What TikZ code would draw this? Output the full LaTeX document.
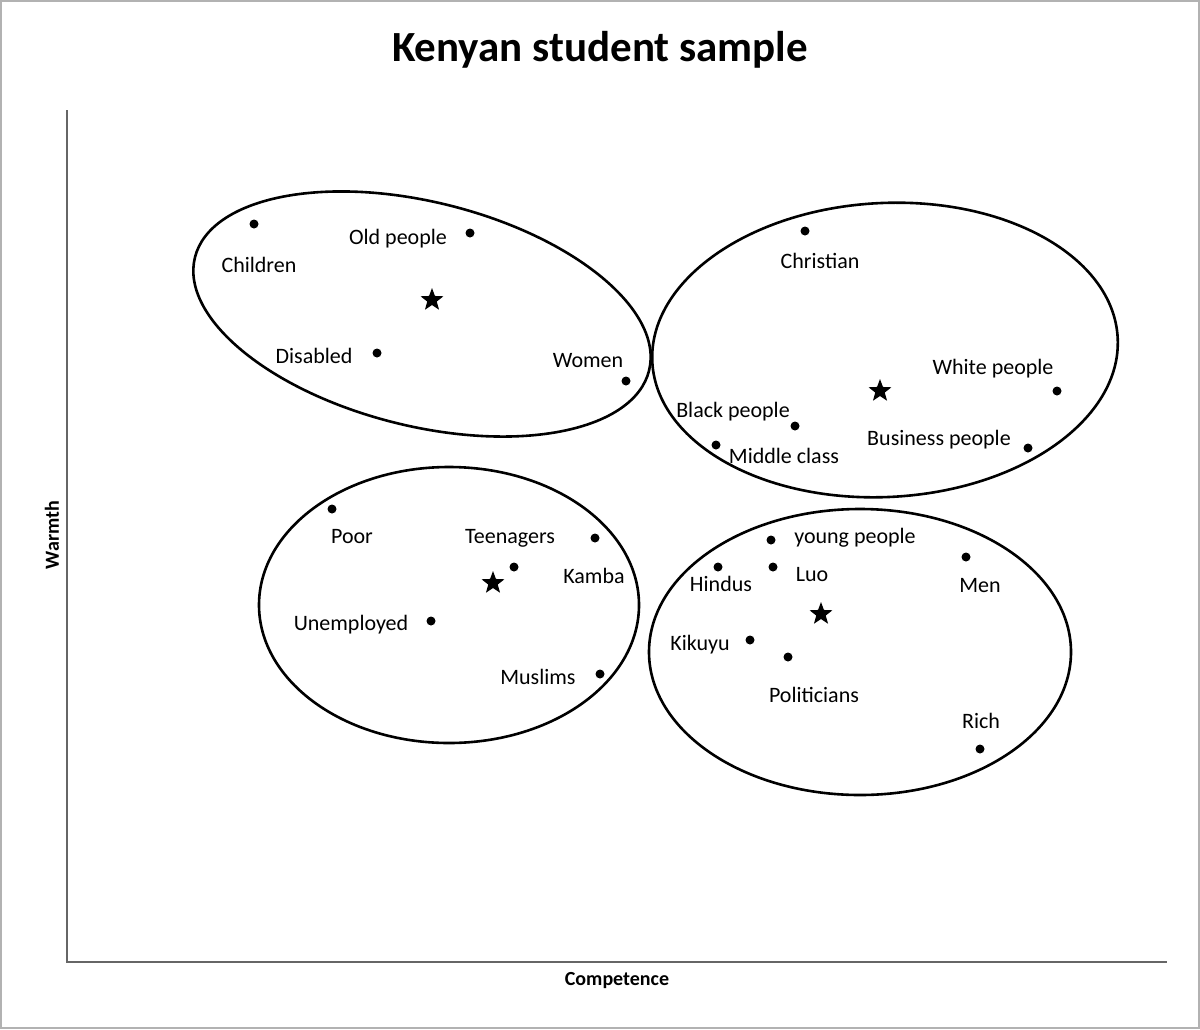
\documentclass[tikz,border=0pt]{standalone}
\usepackage{fontspec}
\setmainfont{Carlito}
\usetikzlibrary{shapes.geometric}
\tikzset{
    dot/.style={circle, fill=black, inner sep=0pt, minimum size=4.5pt},
    lbl/.style={font=\fontsize{11}{13}\selectfont, inner sep=0pt},
    centre/.style={star, star points=5, star point ratio=2.4, fill=black, inner sep=0pt, minimum size=12pt},
    group/.style={black, line width=1.3pt},
    axis/.style={gray!80!black, line width=1pt}
}
\begin{document}
\begin{tikzpicture}[x=0.5pt, y=-0.5pt]
        \useasboundingbox (0,0) rectangle (1200,1029);
        \draw[gray!60, line width=1pt] (1,1) rectangle (1199,1028);
        % axes
        \coordinate (top) at (67,110);
        \coordinate (origin) at (67,962);
        \coordinate (right) at (1167,962);
        \draw[axis] (top) -- (origin) -- (right);
        \node[font=\bfseries\fontsize{21.5}{24}\selectfont] (title) at (600,50) {Kenyan student sample};
        \node[font=\bfseries\fontsize{10}{12}\selectfont] (xlabel) at (617,981) {Competence};
        \node[font=\bfseries\fontsize{10}{12}\selectfont, rotate=90] (ylabel) at (52,535) {Warmth};
        % clusters
        \draw[group, rotate around={-14:(422,314)}] (422,314) ellipse (234 and 112);
        \draw[group, rotate around={3:(885,350)}] (885,350) ellipse (233 and 147);
        \draw[group] (449,605) ellipse (190 and 138);
        \draw[group] (860,652) ellipse (211 and 143);
        \node[centre] (s1) at (432,300) {};
        \node[centre] (s2) at (880,391) {};
        \node[centre] (s3) at (493,583) {};
        \node[centre] (s4) at (821,614) {};
        % warm, incompetent
        \node[dot] (children) at (254,224) {};   \node[lbl] (lchildren) at (259,265) {Children};
        \node[dot] (old) at (470,233) {};        \node[lbl] (lold) at (398,239) {Old people};
        \node[dot] (disabled) at (377,353) {};   \node[lbl] (ldisabled) at (314,356) {Disabled};
        \node[dot] (women) at (626,381) {};      \node[lbl] (lwomen) at (588,361) {Women};
        % warm, competent
        \node[dot] (christian) at (805,231) {};  \node[lbl] (lchristian) at (820,261) {Christian};
        \node[dot] (white) at (1057,391) {};     \node[lbl] (lwhite) at (993,369) {White people};
        \node[dot] (black) at (795,426) {};      \node[lbl] (lblack) at (733,412) {Black people};
        \node[dot] (middle) at (716,445) {};     \node[lbl] (lmiddle) at (784,456) {Middle class};
        \node[dot] (business) at (1028,448) {};  \node[lbl] (lbusiness) at (939,440) {Business people};
        % cold, incompetent
        \node[dot] (poor) at (332,509) {};       \node[lbl] (lpoor) at (352,537) {Poor};
        \node[dot] (teen) at (595,538) {};       \node[lbl] (lteen) at (510,538) {Teenagers};
        \node[dot] (kamba) at (514,567) {};      \node[lbl] (lkamba) at (594,576) {Kamba};
        \node[dot] (unemployed) at (431,621) {}; \node[lbl] (lunemployed) at (351,625) {Unemployed};
        \node[dot] (muslims) at (600,674) {};    \node[lbl] (lmuslims) at (538,677) {Muslims};
        % cold, competent
        \node[dot] (young) at (771,540) {};      \node[lbl] (lyoung) at (855,538) {young people};
        \node[dot] (hindus) at (718,567) {};     \node[lbl] (lhindus) at (721,584) {Hindus};
        \node[dot] (luo) at (773,567) {};        \node[lbl] (lluo) at (812,575) {Luo};
        \node[dot] (men) at (966,557) {};        \node[lbl] (lmen) at (980,586) {Men};
        \node[dot] (kikuyu) at (750,640) {};     \node[lbl] (lkikuyu) at (700,645) {Kikuyu};
        \node[dot] (politicians) at (788,657) {};\node[lbl] (lpoliticians) at (814,695) {Politicians};
        \node[dot] (rich) at (980,749) {};       \node[lbl] (lrich) at (981,721) {Rich};
\end{tikzpicture}
\end{document}
